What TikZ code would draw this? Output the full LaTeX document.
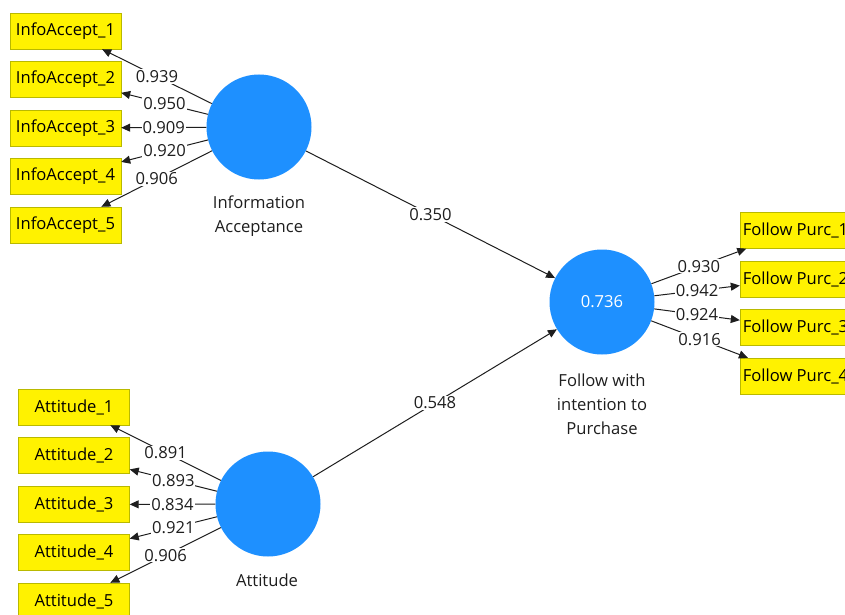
\documentclass[tikz,border=0pt]{standalone}
\usepackage{fontspec}
\setmainfont{Open Sans}
\usetikzlibrary{arrows.meta}
\definecolor{lvblue}{RGB}{30,144,255}
\definecolor{boxline}{RGB}{185,185,0}
\definecolor{pathgray}{RGB}{30,30,30}
\begin{document}
\begin{tikzpicture}[x=1pt,y=-1pt]
\tikzstyle{box_style} = [draw=boxline, fill=yellow, minimum width=111pt, minimum height=36pt, inner sep=2pt, font=\fontsize{16.6}{20}\selectfont]
\tikzstyle{lv_style} = [circle, fill=lvblue, minimum size=105pt, inner sep=0pt, text=white, font=\fontsize{16.6}{20}\selectfont]
\tikzstyle{text_style} = [align=center, font=\fontsize{16.6}{24}\selectfont, text=pathgray]
\tikzstyle{label_style} = [fill=white, inner sep=1pt, font=\fontsize{16.6}{20}\selectfont, text=pathgray]
\tikzstyle{edge_style} = [pathgray, line width=1pt, -{Triangle[length=9pt,width=8pt]}]
    \useasboundingbox (0,0) rectangle (845,615);
    \clip (0,0) rectangle (845,615);
    \fill[white] (0,0) rectangle (845,615);

    % latent variables
    \node[lv_style] (ia) at (259,127) {};
    \node[lv_style] (att) at (268,504) {};
    \node[lv_style] (fp) at (602,302) {0.736};

    \node[text_style] (ia_txt) at (259,216) {Information\\Acceptance};
    \node[text_style] (att_txt) at (267,580) {Attitude};
    \node[text_style] (fp_txt) at (602,404) {Follow with\\intention to\\Purchase};

    % indicators
    \node[box_style] (ia1) at (65.5,31) {InfoAccept\_1};
    \node[box_style] (ia2) at (65.5,79) {InfoAccept\_2};
    \node[box_style] (ia3) at (65.5,128) {InfoAccept\_3};
    \node[box_style] (ia4) at (65.5,176) {InfoAccept\_4};
    \node[box_style] (ia5) at (65.5,225) {InfoAccept\_5};

    \node[box_style] (att1) at (74,407) {Attitude\_1};
    \node[box_style] (att2) at (74,455.5) {Attitude\_2};
    \node[box_style] (att3) at (74,504.5) {Attitude\_3};
    \node[box_style] (att4) at (74,552.5) {Attitude\_4};
    \node[box_style] (att5) at (74,601) {Attitude\_5};

    \node[box_style] (fp1) at (795.5,230.5) {Follow Purc\_1};
    \node[box_style] (fp2) at (795.5,279) {Follow Purc\_2};
    \node[box_style] (fp3) at (795.5,327.5) {Follow Purc\_3};
    \node[box_style] (fp4) at (795.5,376) {Follow Purc\_4};

    % outer loadings
    \draw[edge_style] (ia) edge node[label_style] {0.939} (ia1);
    \draw[edge_style] (ia) edge node[label_style] {0.950} (ia2);
    \draw[edge_style] (ia) edge node[label_style] {0.909} (ia3);
    \draw[edge_style] (ia) edge node[label_style] {0.920} (ia4);
    \draw[edge_style] (ia) edge node[label_style] {0.906} (ia5);

    \draw[edge_style] (att) edge node[label_style] {0.891} (att1);
    \draw[edge_style] (att) edge node[label_style] {0.893} (att2);
    \draw[edge_style] (att) edge node[label_style] {0.834} (att3);
    \draw[edge_style] (att) edge node[label_style] {0.921} (att4);
    \draw[edge_style] (att) edge node[label_style] {0.906} (att5);

    \draw[edge_style] (fp) edge node[label_style] {0.930} (fp1);
    \draw[edge_style] (fp) edge node[label_style] {0.942} (fp2);
    \draw[edge_style] (fp) edge node[label_style] {0.924} (fp3);
    \draw[edge_style] (fp) edge node[label_style] {0.916} (fp4);

    % path coefficients
    \draw[edge_style] (ia) edge node[label_style] {0.350} (fp);
    \draw[edge_style] (att) edge node[label_style] {0.548} (fp);
\end{tikzpicture}
\end{document}
